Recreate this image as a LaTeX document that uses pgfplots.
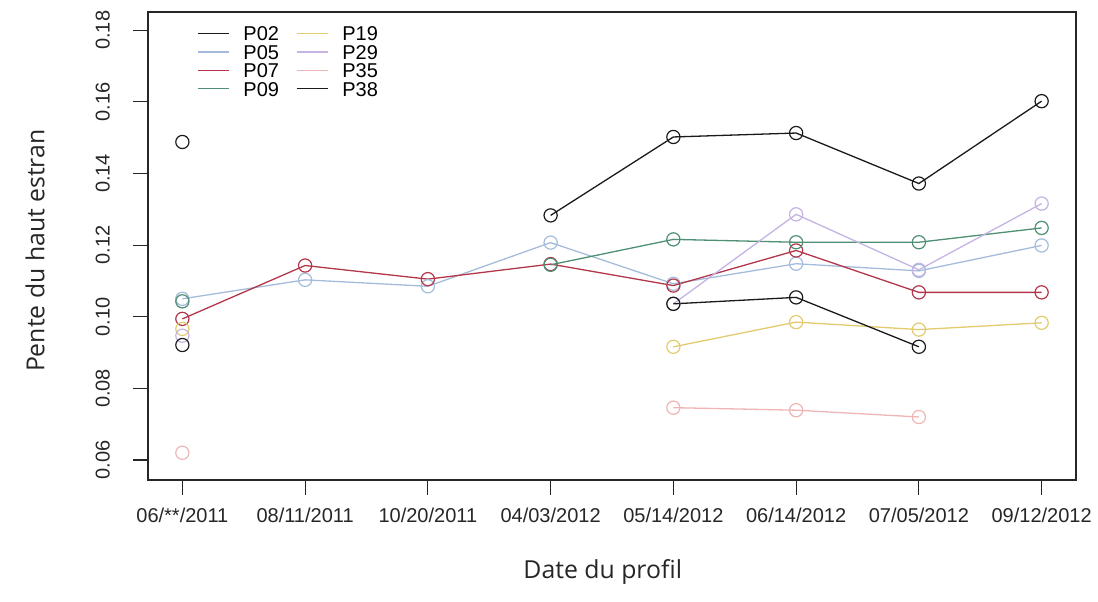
\documentclass[border=0pt]{standalone}
\usepackage{pgfplots}
\pgfplotsset{compat=1.18}
\usepackage{pgfplotstable}
\usepackage{fontspec}
\setmainfont{Liberation Sans}
\newfontfamily\labfont{Open Sans}

\definecolor{cP02}{HTML}{1A1A1A}
\definecolor{cP05}{HTML}{A4BCDC}
\definecolor{cP07}{HTML}{B3364A}
\definecolor{cP09}{HTML}{4F8F73}
\definecolor{cP19}{HTML}{E2CB6E}
\definecolor{cP29}{HTML}{C4B3E3}
\definecolor{cP35}{HTML}{EFB5B5}
\definecolor{cP38}{HTML}{1A1A1A}

\pgfplotstableread{
x P02 P05 P07 P09 P19 P29 P35 P38
0 0.1488 0.1050 0.0994 0.1043 0.0966 0.0947 0.0620 0.0921
1 nan 0.1103 0.1143 nan nan nan nan nan
2 nan 0.1085 0.1105 nan nan nan nan nan
3 0.1283 0.1207 0.1147 0.1145 nan nan nan nan
4 0.1502 0.1092 0.1087 0.1216 0.0916 0.1036 0.0746 0.1036
5 0.1513 0.1148 0.1185 0.1208 0.0985 0.1286 0.0739 0.1054
6 0.1372 0.1128 0.1068 0.1208 0.0964 0.1131 0.0720 0.0916
7 0.1602 0.1199 0.1068 0.1248 0.0983 0.1316 nan nan
}\data

\begin{document}
\begin{tikzpicture}
\useasboundingbox (-74pt,-60.5pt) rectangle (475pt,240pt);
\begin{axis}[
  scale only axis, width=464pt, height=234pt,
  xmin=-0.28, xmax=7.28, ymin=0.0544, ymax=0.1851,
  axis line style={black!85, line width=0.6pt},
  tick pos=left, tick align=outside, major tick length=7.5pt,
  tick style={black!85, line width=0.6pt},
  xtick={0,1,2,3,4,5,6,7},
  xticklabels={06/**/2011,08/11/2011,10/20/2011,04/03/2012,05/14/2012,06/14/2012,07/05/2012,09/12/2012},
  ytick={0.06,0.08,0.10,0.12,0.14,0.16,0.18},
  yticklabel style={rotate=90, anchor=south, /pgf/number format/fixed, /pgf/number format/fixed zerofill, /pgf/number format/precision=2},
  yticklabel shift=8pt, xticklabel shift=3pt,
  /pgf/number format/assume math mode=true,
  ticklabel style={font=\fontsize{10}{12}\selectfont, text=black!85},
  xlabel={Date du profil}, ylabel={Pente du haut estran},
  every axis x label/.style={at={(axis description cs:0.49,-0.1966)}, anchor=center},
  every axis y label/.style={at={(axis description cs:-0.1218,0.49)}, rotate=90, anchor=center},
  label style={font=\labfont\fontsize{12.4}{14}\selectfont, text=black!85},
  unbounded coords=jump,
  legend columns=4, transpose legend,
  legend image code/.code={\draw[#1] (0pt,0pt) -- (15.5pt,0pt);},
  legend style={at={(axis description cs:0.0525,0.97)}, anchor=north west, draw=none, fill=none, inner sep=0pt,
    font=\fontsize{10}{10}\selectfont, row sep=2pt,
    nodes={inner sep=0pt, text height=7.2pt, text depth=0pt},
    /tikz/every odd column/.append style={column sep=7pt},
    /tikz/every even column/.append style={column sep=8.5pt}},
  every axis plot/.append style={line width=0.65pt, mark=o, mark size=3.3pt, mark options={solid, line width=0.6pt}},
]
\addlegendimage{no markers, cP02, line width=0.65pt}
\addlegendentry{P02}
\addlegendimage{no markers, cP05, line width=0.65pt}
\addlegendentry{P05}
\addlegendimage{no markers, cP07, line width=0.65pt}
\addlegendentry{P07}
\addlegendimage{no markers, cP09, line width=0.65pt}
\addlegendentry{P09}
\addlegendimage{no markers, cP19, line width=0.65pt}
\addlegendentry{P19}
\addlegendimage{no markers, cP29, line width=0.65pt}
\addlegendentry{P29}
\addlegendimage{no markers, cP35, line width=0.65pt}
\addlegendentry{P35}
\addlegendimage{no markers, cP38, line width=0.65pt}
\addlegendentry{P38}

\addplot[cP02, forget plot] table[x=x, y=P02] {\data};
\addplot[cP05, forget plot] table[x=x, y=P05] {\data};
\addplot[cP07, forget plot] table[x=x, y=P07] {\data};
\addplot[cP09, forget plot] table[x=x, y=P09] {\data};
\addplot[cP19, forget plot] table[x=x, y=P19] {\data};
\addplot[cP29, forget plot] table[x=x, y=P29] {\data};
\addplot[cP35, forget plot] table[x=x, y=P35] {\data};
\addplot[cP38, forget plot] table[x=x, y=P38] {\data};
\end{axis}
\end{tikzpicture}
\end{document}
